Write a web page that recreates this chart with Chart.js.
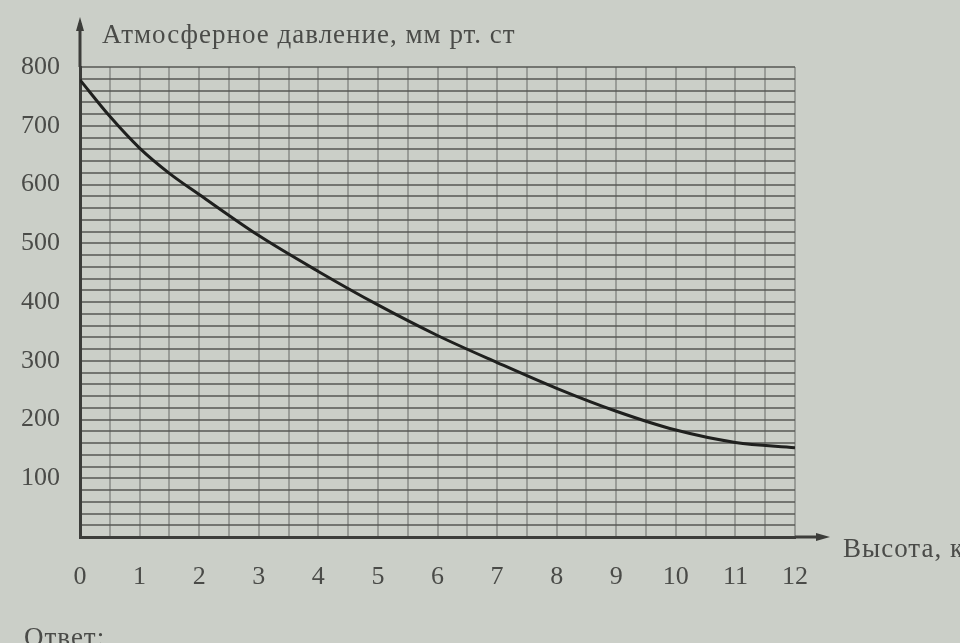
<!DOCTYPE html>
<html>
<head>
<meta charset="utf-8">
<script src="https://cdn.jsdelivr.net/npm/chart.js@4/dist/chart.umd.min.js"></script>
<style>
html,body{margin:0;padding:0;background:#cbcfc8;overflow:hidden;}
canvas{display:block;}
</style>
</head>
<body>
<canvas id="c" width="960" height="643"></canvas>
<script>
// Data
const heightsKm = [0, 0.5, 1, 1.5, 2, 3, 4, 5, 6, 7, 8, 9, 10, 11, 12];
const pressureMm = [778, 716, 662, 619, 583, 513, 452, 395, 343, 297, 253, 214, 182, 161, 152];
const yAxisTitle = 'Атмосферное давление, мм рт. ст';
const xAxisTitle = 'Высота, км';
const footerText = 'Ответ:';

const ink = '#4a4b48';
const serif = '"Liberation Serif", "DejaVu Serif", serif';

const bgPlugin = {
  id: 'bg',
  beforeDraw(chart) {
    const ctx = chart.ctx;
    ctx.save();
    ctx.fillStyle = '#cbcfc8';
    ctx.fillRect(0, 0, chart.width, chart.height);
    ctx.restore();
  }
};

const decor = {
  id: 'decor',
  afterDraw(chart) {
    const ctx = chart.ctx;
    const xs = chart.scales.x, ys = chart.scales.y;
    const x0 = xs.getPixelForValue(0), y0 = ys.getPixelForValue(0);
    const xEnd = xs.getPixelForValue(12), yTop = ys.getPixelForValue(800);
    ctx.save();
    ctx.strokeStyle = '#3c3d3a';
    ctx.fillStyle = '#3c3d3a';
    ctx.lineWidth = 3;
    // y arrow
    ctx.beginPath();
    ctx.moveTo(x0, yTop);
    ctx.lineTo(x0, yTop - 44);
    ctx.stroke();
    ctx.beginPath();
    ctx.moveTo(x0, yTop - 50);
    ctx.lineTo(x0 - 4, yTop - 36);
    ctx.lineTo(x0 + 4, yTop - 36);
    ctx.closePath();
    ctx.fill();
    // x arrow
    ctx.beginPath();
    ctx.moveTo(xEnd, y0);
    ctx.lineTo(xEnd + 28, y0);
    ctx.stroke();
    ctx.beginPath();
    ctx.moveTo(xEnd + 35, y0);
    ctx.lineTo(xEnd + 21, y0 - 4);
    ctx.lineTo(xEnd + 21, y0 + 4);
    ctx.closePath();
    ctx.fill();
    // texts
    ctx.fillStyle = ink;
    ctx.font = '27px ' + serif;
    ctx.letterSpacing = '1px';
    ctx.textBaseline = 'middle';
    ctx.textAlign = 'left';
    ctx.fillText(yAxisTitle, x0 + 22, yTop - 31);
    ctx.fillText(xAxisTitle, xEnd + 48, y0 + 13);
    ctx.textBaseline = 'top';
    ctx.fillText(footerText, 24, 625);
    ctx.restore();
  }
};

new Chart(document.getElementById('c'), {
  type: 'line',
  data: {
    datasets: [{
      data: heightsKm.map((h, i) => ({ x: h, y: pressureMm[i] })),
      borderColor: '#1f201e',
      borderWidth: 3,
      pointRadius: 0,
      fill: false,
      cubicInterpolationMode: 'monotone'
    }]
  },
  options: {
    responsive: false,
    animation: false,
    devicePixelRatio: 1,
    layout: { padding: { left: 0, right: 165, top: 67, bottom: 0 } },
    plugins: { legend: { display: false }, tooltip: { enabled: false }, title: { display: false } },
    scales: {
      x: {
        type: 'linear',
        min: 0, max: 12,
        afterFit(s) { s.height = 106; },
        border: { color: '#3c3d3a', width: 3 },
        grid: { color: 'rgba(120,122,118,0.6)', lineWidth: 2, drawTicks: false },
        ticks: {
          stepSize: 0.5, autoSkip: false, maxRotation: 0, padding: 25,
          color: ink, font: { family: serif, size: 26 },
          callback: v => Number.isInteger(v) ? String(v) : ''
        }
      },
      y: {
        min: 0, max: 800,
        afterFit(s) { s.width = 80; },
        border: { color: '#3c3d3a', width: 3 },
        grid: { color: 'rgba(85,87,83,0.75)', lineWidth: 2, drawTicks: false },
        ticks: {
          stepSize: 20, autoSkip: false, padding: 20,
          color: ink, font: { family: serif, size: 26 },
          callback: v => (v % 100 === 0 && v > 0) ? String(v) : ''
        }
      }
    }
  },
  plugins: [bgPlugin, decor]
});
</script>
</body>
</html>
